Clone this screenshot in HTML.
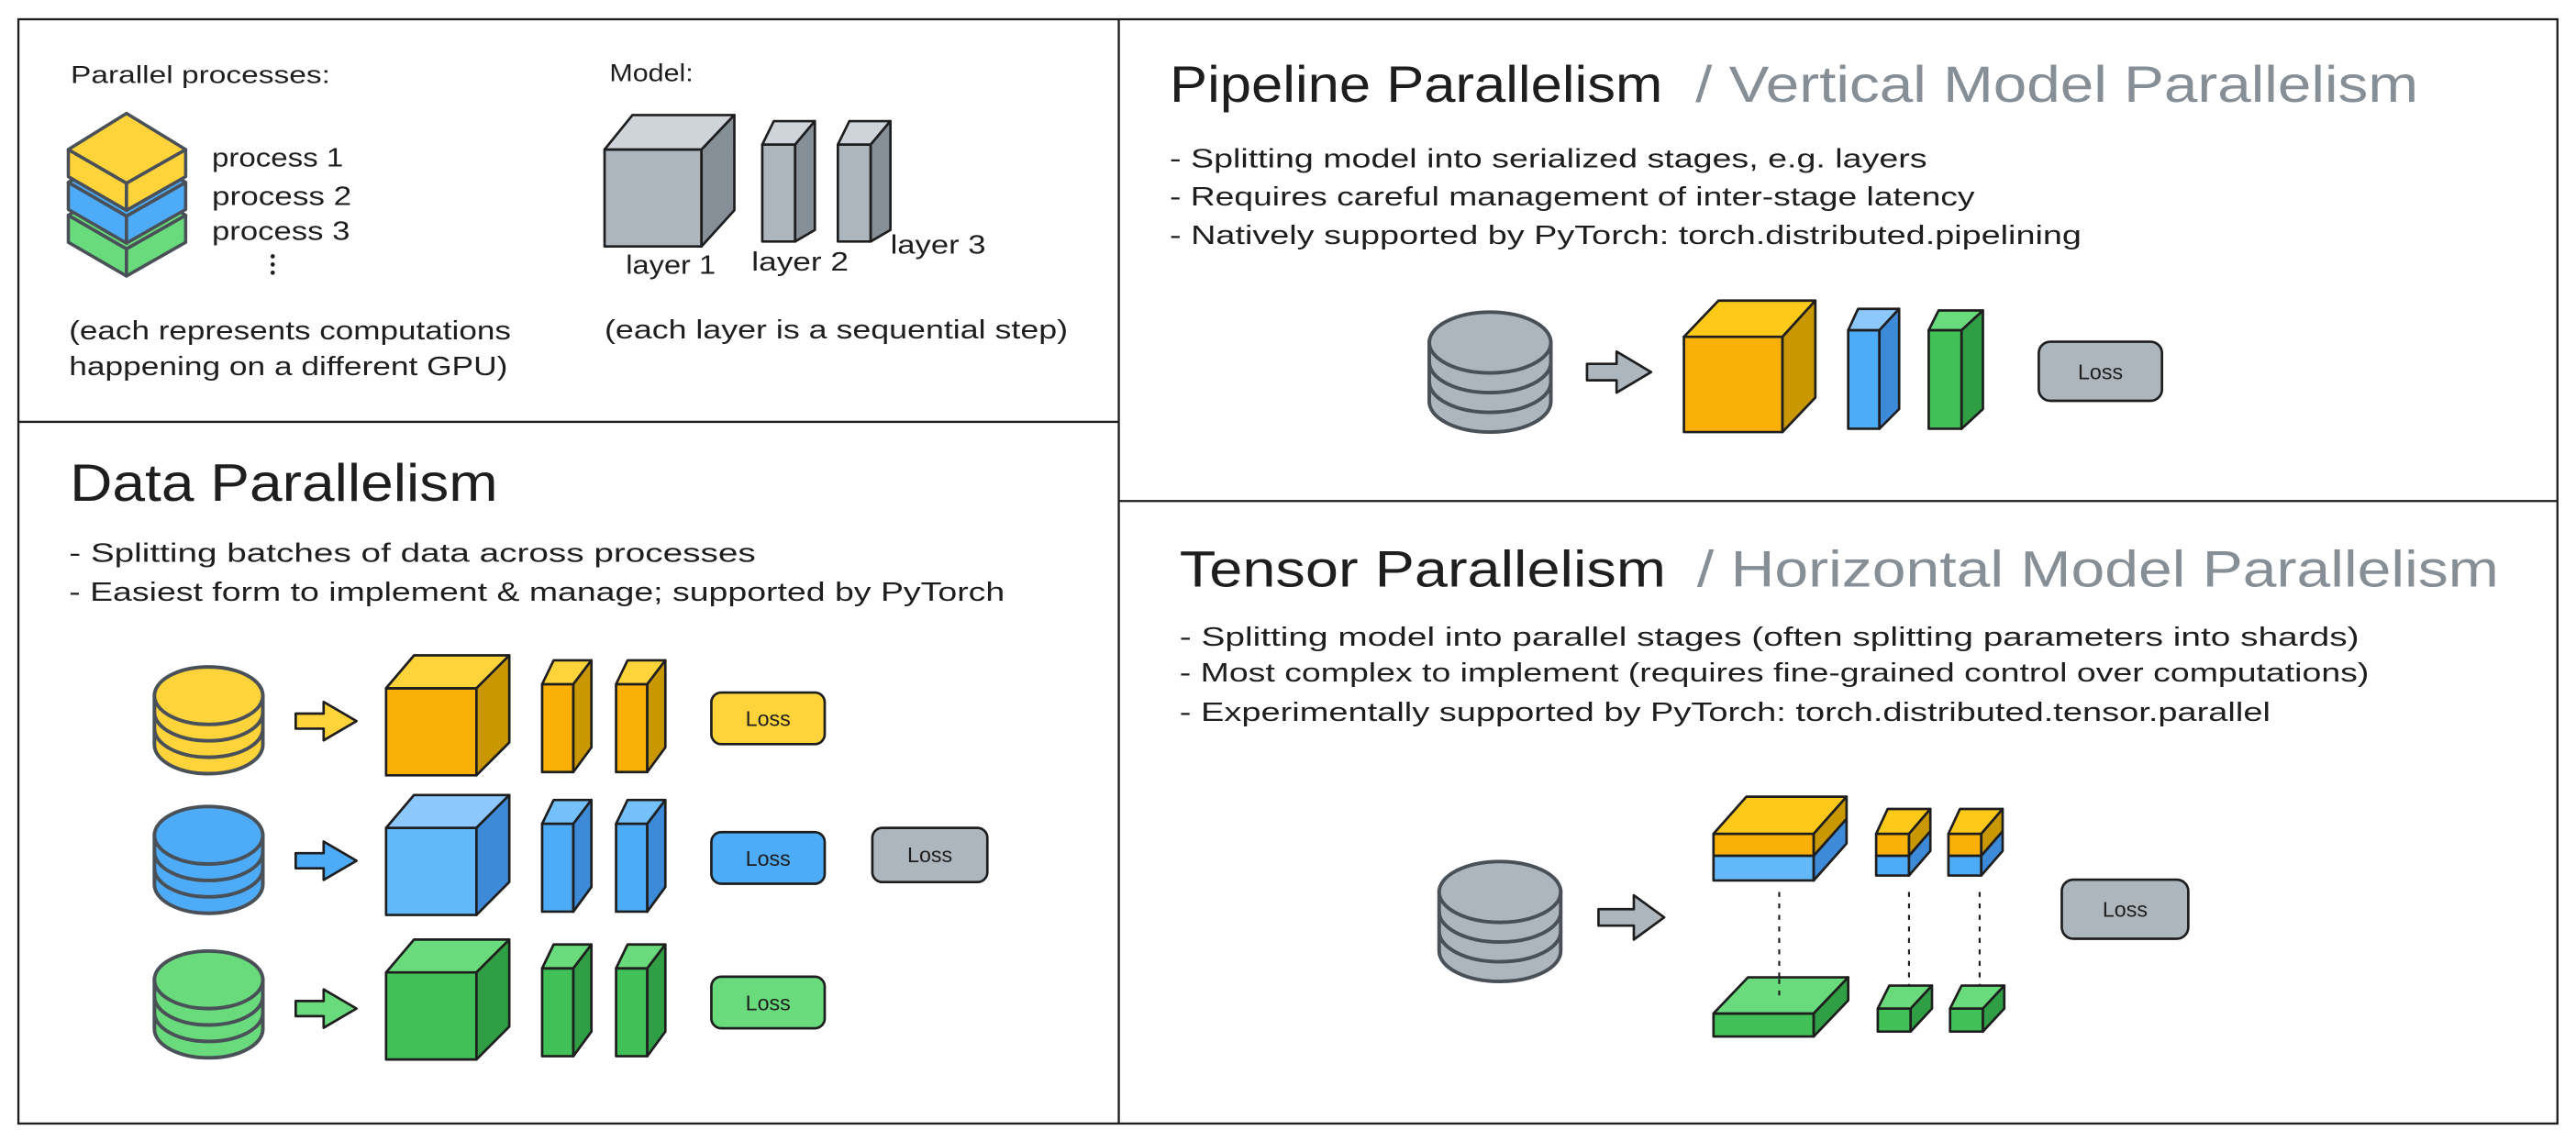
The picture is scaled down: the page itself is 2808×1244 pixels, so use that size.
<!DOCTYPE html>
<html><head><meta charset="utf-8"><style>
html,body{margin:0;padding:0;background:#fff}
svg{display:block}
text{font-family:"Liberation Sans",sans-serif;fill:#1e1e1e}
.g{fill:#868e96}
.c{stroke:#1e1e1e;stroke-width:1.5;stroke-linejoin:round}
.cy{stroke:#495057;stroke-width:2.2}
</style></head><body>
<svg width="2808" height="1244" viewBox="0 0 1568 694.6" xmlns="http://www.w3.org/2000/svg">
<rect x="0" y="0" width="1568" height="694.6" fill="#fff"/>
<!-- frame -->
<g stroke="#1e1e1e" stroke-width="1.3" fill="none">
<rect x="11.2" y="11.7" width="1545.5" height="672.3"/>
<line x1="681" y1="11.7" x2="681" y2="684"/>
<line x1="11.2" y1="256.8" x2="681" y2="256.8"/>
<line x1="681" y1="305" x2="1556.7" y2="305"/>
</g>

<!-- top-left legend -->
<text x="43" y="50.6" font-size="15" textLength="158" lengthAdjust="spacingAndGlyphs">Parallel processes:</text>
<text x="371" y="49.3" font-size="15" textLength="51" lengthAdjust="spacingAndGlyphs">Model:</text>
<g stroke="#495057" stroke-width="2" stroke-linejoin="round">
<g transform="translate(0,40)" fill="#69db7c"><polygon points="41.6,91 77,111.5 77,128 41.6,107.5"/><polygon points="77,111.5 113,91 113,107.5 77,128"/><polygon points="77,69 113,91 77,111.5 41.6,91"/></g>
<g transform="translate(0,20)" fill="#4dabf7"><polygon points="41.6,91 77,111.5 77,128 41.6,107.5"/><polygon points="77,111.5 113,91 113,107.5 77,128"/><polygon points="77,69 113,91 77,111.5 41.6,91"/></g>
<g fill="#ffd43b"><polygon points="41.6,91 77,111.5 77,128 41.6,107.5"/><polygon points="77,111.5 113,91 113,107.5 77,128"/><polygon points="77,69 113,91 77,111.5 41.6,91"/></g>
</g>
<text x="129" y="101.4" font-size="16" textLength="80" lengthAdjust="spacingAndGlyphs">process 1</text>
<text x="129" y="124.7" font-size="16" textLength="85" lengthAdjust="spacingAndGlyphs">process 2</text>
<text x="129" y="146" font-size="16" textLength="84" lengthAdjust="spacingAndGlyphs">process 3</text>
<g fill="#1e1e1e"><circle cx="166" cy="156" r="1.3"/><circle cx="166" cy="161" r="1.3"/><circle cx="166" cy="166" r="1.3"/></g>
<text x="42" y="206.6" font-size="16" textLength="269" lengthAdjust="spacingAndGlyphs">(each represents computations</text>
<text x="42" y="228.5" font-size="16" textLength="267" lengthAdjust="spacingAndGlyphs">happening on a different GPU)</text>

<g class="c">
<rect x="368" y="91" width="59" height="59" fill="#adb5bd"/>
<polygon points="368,91 385,70 447,70 427,91" fill="#ced4da"/>
<polygon points="427,91 447,70 447,128 427,150" fill="#868e96"/>
<rect x="464" y="88" width="20" height="59" fill="#adb5bd"/>
<polygon points="464,88 471,73.7 496,73.7 484,88" fill="#ced4da"/>
<polygon points="484,88 496,73.7 496,140 484,147" fill="#868e96"/>
<rect x="510" y="88" width="20" height="59" fill="#adb5bd"/>
<polygon points="510,88 517,73.7 542,73.7 530,88" fill="#ced4da"/>
<polygon points="530,88 542,73.7 542,140 530,147" fill="#868e96"/>
</g>
<text x="381" y="166.6" font-size="16" textLength="54.6" lengthAdjust="spacingAndGlyphs">layer 1</text>
<text x="457.5" y="164.7" font-size="16" textLength="59" lengthAdjust="spacingAndGlyphs">layer 2</text>
<text x="542" y="154.5" font-size="16" textLength="58" lengthAdjust="spacingAndGlyphs">layer 3</text>
<text x="368" y="206" font-size="16" textLength="282" lengthAdjust="spacingAndGlyphs">(each layer is a sequential step)</text>

<!-- Data parallelism -->
<text x="42.5" y="305" font-size="32" textLength="260.5" lengthAdjust="spacingAndGlyphs">Data Parallelism</text>
<text x="42" y="342" font-size="16" textLength="418" lengthAdjust="spacingAndGlyphs">- Splitting batches of data across processes</text>
<text x="42" y="365.7" font-size="16" textLength="569.6" lengthAdjust="spacingAndGlyphs">- Easiest form to implement &amp; manage; supported by PyTorch</text>

<!-- row template yellow -->
<g>
<g class="cy" fill="#ffd43b"><path d="M94,423.5 L94,453.5 A33,17.5 0 0 0 160,453.5 L160,423.5 Z"/><ellipse cx="127" cy="423.5" rx="33" ry="17.5"/><path d="M94,433.5 A33,17.5 0 0 0 160,433.5 M94,443.5 A33,17.5 0 0 0 160,443.5" fill="none"/></g>
<polygon class="c" points="180,434.4 197,434.4 197,427.3 217,439 197,450.7 197,443.6 180,443.6" fill="#ffd43b" stroke-width="2"/>
<g class="c">
<rect x="235" y="419" width="55" height="53" fill="#fab005"/>
<polygon points="235,419 252,399 310,399 290,419" fill="#ffc9009a"/>
<polygon points="235,419 252,399 310,399 290,419" fill="#ffd43b"/>
<polygon points="290,419 310,399 310,452 290,472" fill="#c99700"/>
<rect x="330" y="416.5" width="19" height="53.5" fill="#fab005"/>
<polygon points="330,416.5 337,402 360,402 349,416.5" fill="#ffd43b"/>
<polygon points="349,416.5 360,402 360,455 349,470" fill="#c99700"/>
<rect x="375" y="416.5" width="19" height="53.5" fill="#fab005"/>
<polygon points="375,416.5 382,402 405,402 394,416.5" fill="#ffd43b"/>
<polygon points="394,416.5 405,402 405,455 394,470" fill="#c99700"/>
<rect x="433" y="421.6" width="69" height="31.4" rx="6" fill="#ffd43b"/>
</g>
<text x="467.5" y="442" font-size="13" text-anchor="middle">Loss</text>
</g>
<!-- blue -->
<g transform="translate(0,85)">
<g class="cy" fill="#4dabf7"><path d="M94,423.5 L94,453.5 A33,17.5 0 0 0 160,453.5 L160,423.5 Z"/><ellipse cx="127" cy="423.5" rx="33" ry="17.5"/><path d="M94,433.5 A33,17.5 0 0 0 160,433.5 M94,443.5 A33,17.5 0 0 0 160,443.5" fill="none"/></g>
<polygon class="c" points="180,434.4 197,434.4 197,427.3 217,439 197,450.7 197,443.6 180,443.6" fill="#4dabf7" stroke-width="2"/>
<g class="c">
<rect x="235" y="419" width="55" height="53" fill="#63b8fa"/>
<polygon points="235,419 252,399 310,399 290,419" fill="#8cc8fc"/>
<polygon points="290,419 310,399 310,452 290,472" fill="#3d8ad9"/>
<rect x="330" y="416.5" width="19" height="53.5" fill="#4dabf7"/>
<polygon points="330,416.5 337,402 360,402 349,416.5" fill="#74c0fc"/>
<polygon points="349,416.5 360,402 360,455 349,470" fill="#3d8ad9"/>
<rect x="375" y="416.5" width="19" height="53.5" fill="#4dabf7"/>
<polygon points="375,416.5 382,402 405,402 394,416.5" fill="#74c0fc"/>
<polygon points="394,416.5 405,402 405,455 394,470" fill="#3d8ad9"/>
<rect x="433" y="421.6" width="69" height="31.4" rx="6" fill="#4dabf7"/>
</g>
<text x="467.5" y="442" font-size="13" text-anchor="middle">Loss</text>
</g>
<rect class="c" x="531" y="504" width="70" height="33" rx="6" fill="#adb5bd"/>
<text x="566" y="525" font-size="13" text-anchor="middle">Loss</text>
<!-- green -->
<g transform="translate(0,173)">
<g class="cy" fill="#69db7c"><path d="M94,423.5 L94,453.5 A33,17.5 0 0 0 160,453.5 L160,423.5 Z"/><ellipse cx="127" cy="423.5" rx="33" ry="17.5"/><path d="M94,433.5 A33,17.5 0 0 0 160,433.5 M94,443.5 A33,17.5 0 0 0 160,443.5" fill="none"/></g>
<polygon class="c" points="180,436.4 197,436.4 197,429.3 217,441 197,452.7 197,445.6 180,445.6" fill="#69db7c" stroke-width="2"/>
<g class="c">
<rect x="235" y="419" width="55" height="53" fill="#40c057"/>
<polygon points="235,419 252,399 310,399 290,419" fill="#69db7c"/>
<polygon points="290,419 310,399 310,452 290,472" fill="#2f9e44"/>
<rect x="330" y="416.5" width="19" height="53.5" fill="#40c057"/>
<polygon points="330,416.5 337,402 360,402 349,416.5" fill="#69db7c"/>
<polygon points="349,416.5 360,402 360,455 349,470" fill="#2f9e44"/>
<rect x="375" y="416.5" width="19" height="53.5" fill="#40c057"/>
<polygon points="375,416.5 382,402 405,402 394,416.5" fill="#69db7c"/>
<polygon points="394,416.5 405,402 405,455 394,470" fill="#2f9e44"/>
<rect x="433" y="421.6" width="69" height="31.4" rx="6" fill="#69db7c"/>
</g>
<text x="467.5" y="442" font-size="13" text-anchor="middle">Loss</text>
</g>

<!-- Pipeline -->
<text x="712" y="62" font-size="31" textLength="300" lengthAdjust="spacingAndGlyphs">Pipeline Parallelism</text>
<text x="1032" y="62" font-size="31" class="g" textLength="440" lengthAdjust="spacingAndGlyphs">/ Vertical Model Parallelism</text>
<text x="712" y="102" font-size="16" textLength="461" lengthAdjust="spacingAndGlyphs">- Splitting model into serialized stages, e.g. layers</text>
<text x="712" y="125" font-size="16" textLength="490" lengthAdjust="spacingAndGlyphs">- Requires careful management of inter-stage latency</text>
<text x="712" y="148.5" font-size="16" textLength="555" lengthAdjust="spacingAndGlyphs">- Natively supported by PyTorch: torch.distributed.pipelining</text>
<g class="cy" fill="#adb5bd"><path d="M870,208.5 L870,244.5 A37,18.5 0 0 0 944,244.5 L944,208.5 Z"/><ellipse cx="907" cy="208.5" rx="37" ry="18.5"/><path d="M870,220.5 A37,18.5 0 0 0 944,220.5 M870,232.5 A37,18.5 0 0 0 944,232.5" fill="none"/></g>
<polygon class="c" points="966,221.5 984,221.5 984,214 1005,226.5 984,239 984,231.5 966,231.5" fill="#adb5bd" stroke-width="2"/>
<g class="c">
<rect x="1025" y="205" width="60" height="58" fill="#fab005"/>
<polygon points="1025,205 1046,183 1105,183 1085,205" fill="#ffc919"/>
<polygon points="1085,205 1105,183 1105,242 1085,263" fill="#c99700"/>
<rect x="1125" y="201" width="19" height="60" fill="#4dabf7"/>
<polygon points="1125,201 1131,188 1156,188 1144,201" fill="#8cc8fc"/>
<polygon points="1144,201 1156,188 1156,249 1144,261" fill="#3d8ad9"/>
<rect x="1174" y="201" width="20" height="60" fill="#40c057"/>
<polygon points="1174,201 1180,189 1207,189 1194,201" fill="#69db7c"/>
<polygon points="1194,201 1207,189 1207,249 1194,261" fill="#2f9e44"/>
<rect x="1241" y="208" width="75" height="36" rx="7" fill="#adb5bd"/>
</g>
<text x="1278.5" y="231" font-size="13" text-anchor="middle">Loss</text>

<!-- Tensor -->
<text x="718" y="357" font-size="31" textLength="296" lengthAdjust="spacingAndGlyphs">Tensor Parallelism</text>
<text x="1033" y="357" font-size="31" class="g" textLength="488" lengthAdjust="spacingAndGlyphs">/ Horizontal Model Parallelism</text>
<text x="718" y="393" font-size="16" textLength="718" lengthAdjust="spacingAndGlyphs">- Splitting model into parallel stages (often splitting parameters into shards)</text>
<text x="718" y="415" font-size="16" textLength="724" lengthAdjust="spacingAndGlyphs">- Most complex to implement (requires fine-grained control over computations)</text>
<text x="718" y="439" font-size="16" textLength="664" lengthAdjust="spacingAndGlyphs">- Experimentally supported by PyTorch: torch.distributed.tensor.parallel</text>
<g class="cy" fill="#adb5bd"><path d="M876,543 L876,579 A37,18.5 0 0 0 950,579 L950,543 Z"/><ellipse cx="913" cy="543" rx="37" ry="18.5"/><path d="M876,555 A37,18.5 0 0 0 950,555 M876,567 A37,18.5 0 0 0 950,567" fill="none"/></g>
<polygon class="c" points="973,553.5 994.5,553.5 994.5,545 1013,558.5 994.5,572 994.5,563.5 973,563.5" fill="#adb5bd" stroke-width="2"/>
<g stroke="#1e1e1e" stroke-width="1.2" stroke-dasharray="3 4">
<line x1="1083" y1="543" x2="1083" y2="602"/>
<line x1="1162" y1="543" x2="1162" y2="607"/>
<line x1="1205" y1="543" x2="1205" y2="607"/>
</g>
<g class="c">
<rect x="1043" y="507.6" width="61" height="13.4" fill="#fab005"/>
<rect x="1043" y="521" width="61" height="15" fill="#63b8fa"/>
<polygon points="1043,507.6 1063,485 1124,485 1104,507.6" fill="#ffc919"/>
<polygon points="1104,507.6 1124,485 1124,498.5 1104,521" fill="#c99700"/>
<polygon points="1104,521 1124,498.5 1124,513.5 1104,536" fill="#3d8ad9"/>

<rect x="1142" y="507.6" width="20" height="13.4" fill="#fab005"/>
<rect x="1142" y="521" width="20" height="12" fill="#4dabf7"/>
<polygon points="1142,507.6 1149,492.5 1175,492.5 1162,507.6" fill="#ffc919"/>
<polygon points="1162,507.6 1175,492.5 1175,506 1162,521" fill="#c99700"/>
<polygon points="1162,521 1175,506 1175,518 1162,533" fill="#3d8ad9"/>

<rect x="1186" y="507.6" width="20" height="13.4" fill="#fab005"/>
<rect x="1186" y="521" width="20" height="12" fill="#4dabf7"/>
<polygon points="1186,507.6 1193,492.5 1219,492.5 1206,507.6" fill="#ffc919"/>
<polygon points="1206,507.6 1219,492.5 1219,506 1206,521" fill="#c99700"/>
<polygon points="1206,521 1219,506 1219,518 1206,533" fill="#3d8ad9"/>

<rect x="1043" y="617" width="61" height="14" fill="#40c057"/>
<polygon points="1043,617 1064,595 1125,595 1104,617" fill="#69db7c"/>
<polygon points="1104,617 1125,595 1125,609 1104,631" fill="#2f9e44"/>

<rect x="1143" y="614" width="20" height="14" fill="#40c057"/>
<polygon points="1143,614 1150,600 1176,600 1163,614" fill="#69db7c"/>
<polygon points="1163,614 1176,600 1176,614 1163,628" fill="#2f9e44"/>

<rect x="1187" y="614" width="20" height="14" fill="#40c057"/>
<polygon points="1187,614 1194,600 1220,600 1207,614" fill="#69db7c"/>
<polygon points="1207,614 1220,600 1220,614 1207,628" fill="#2f9e44"/>

<rect x="1255" y="535.5" width="77" height="36" rx="7" fill="#adb5bd"/>
</g>
<g stroke="#1e1e1e" stroke-width="1.2" stroke-dasharray="3 4">
<line x1="1083" y1="596" x2="1083" y2="606"/>
</g>
<text x="1293.5" y="558" font-size="13" text-anchor="middle">Loss</text>
</svg>
</body></html>
